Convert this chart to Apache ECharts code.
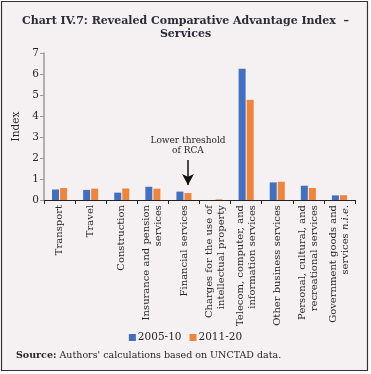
<!DOCTYPE html>
<html>
<head>
<meta charset="utf-8">
<script src="https://cdn.jsdelivr.net/npm/echarts@6/dist/echarts.min.js"></script>
<style>
html,body{margin:0;padding:0;background:#fff;}
#c{width:371px;height:374px;}
</style>
</head>
<body>
<div id="c"></div>
<script>
const categories = [
  "Transport",
  "Travel",
  "Construction",
  "Insurance and pension\nservices",
  "Financial services",
  "Charges for the use of\nintellectual property",
  "Telecom, computer, and\ninformation services",
  "Other business services",
  "Personal, cultural, and\nrecreational services",
  "Government goods and\nservices {i|n.i.e.}"
];
const series2005 = [0.50, 0.48, 0.35, 0.63, 0.40, 0.00, 6.25, 0.84, 0.68, 0.22];
const series2011 = [0.57, 0.54, 0.55, 0.54, 0.33, 0.03, 4.77, 0.87, 0.57, 0.23];
const yTicks = [0, 1, 2, 3, 4, 5, 6, 7];

const serif = "DejaVu Serif";
const textColor = "#262626";
const chart = echarts.init(document.getElementById('c'));
chart.setOption({
  backgroundColor: '#ffffff',
  animation: false,
  graphic: [{
    type: 'rect', z: -10, silent: true,
    shape: {x: 1.5, y: 1.5, width: 366, height: 369},
    style: {fill: '#f5f1f3', stroke: '#333', lineWidth: 1.2}
  }],
  title: [{
    text: 'Chart IV.7: Revealed Comparative Advantage Index  –\nServices',
    left: 'center', top: 10,
    textStyle: {fontFamily: serif, fontWeight: 'bold', fontSize: 11, lineHeight: 13, color: '#2b2b38', align: 'center'}
  }, {
    text: '{b|Source:} Authors\' calculations based on UNCTAD data.',
    left: 11, top: 346,
    textStyle: {fontFamily: serif, fontSize: 9.5, fontWeight: 'normal', color: textColor,
      rich: {b: {fontFamily: serif, fontSize: 9.5, fontWeight: 'bold', color: textColor}}}
  }],
  legend: {
    data: ['2005-10', '2011-20'],
    top: 327, left: 'center',
    icon: 'rect', itemWidth: 7, itemHeight: 7, itemGap: 8,
    textStyle: {fontFamily: serif, fontSize: 10.5, color: textColor, padding: [0,0,0,-3]}
  },
  grid: {left: 44, right: 16, top: 53, bottom: 174, containLabel: false},
  xAxis: {
    type: 'category',
    data: categories,
    axisLine: {lineStyle: {color: '#222', width: 1}},
    axisTick: {show: true, length: 4, lineStyle: {color: '#222'}},
    axisLabel: {
      interval: 0, rotate: 90, margin: 5,
      fontFamily: serif, fontSize: 10, lineHeight: 12, color: textColor,
      rich: {i: {fontFamily: serif, fontSize: 10, fontStyle: 'italic', color: textColor}}
    }
  },
  yAxis: {
    type: 'value', min: 0, max: 7, interval: 1,
    name: 'Index', nameLocation: 'middle', nameGap: 22, nameRotate: 90,
    nameTextStyle: {fontFamily: serif, fontSize: 10.5, color: textColor},
    axisLine: {show: true, lineStyle: {color: '#9a9a9a', width: 1.5}},
    axisTick: {show: true, length: 4, lineStyle: {color: '#9a9a9a'}},
    splitLine: {show: false},
    axisLabel: {fontFamily: serif, fontSize: 10.5, color: textColor, margin: 5,
      formatter: function (v) { return yTicks.indexOf(v) >= 0 ? String(v) : ''; }}
  },
  series: [{
    name: '2005-10', type: 'bar', data: series2005,
    barWidth: 7, barGap: '15%',
    itemStyle: {color: '#4270c0'}
  }, {
    name: '2011-20', type: 'bar', data: series2011,
    barWidth: 7,
    itemStyle: {color: '#f0843a'},
    markLine: {
      silent: true,
      symbol: ['none', 'arrow'], symbolSize: [9, 11],
      lineStyle: {color: '#111', width: 1.5, type: 'solid'},
      label: {show: true, position: 'start', distance: 4,
        formatter: 'Lower threshold\nof RCA',
        fontFamily: serif, fontSize: 9, lineHeight: 10, color: textColor},
      data: [[{coord: ['Financial services', 1.9]}, {coord: ['Financial services', 0.72]}]]
    }
  }]
});
</script>
</body>
</html>
